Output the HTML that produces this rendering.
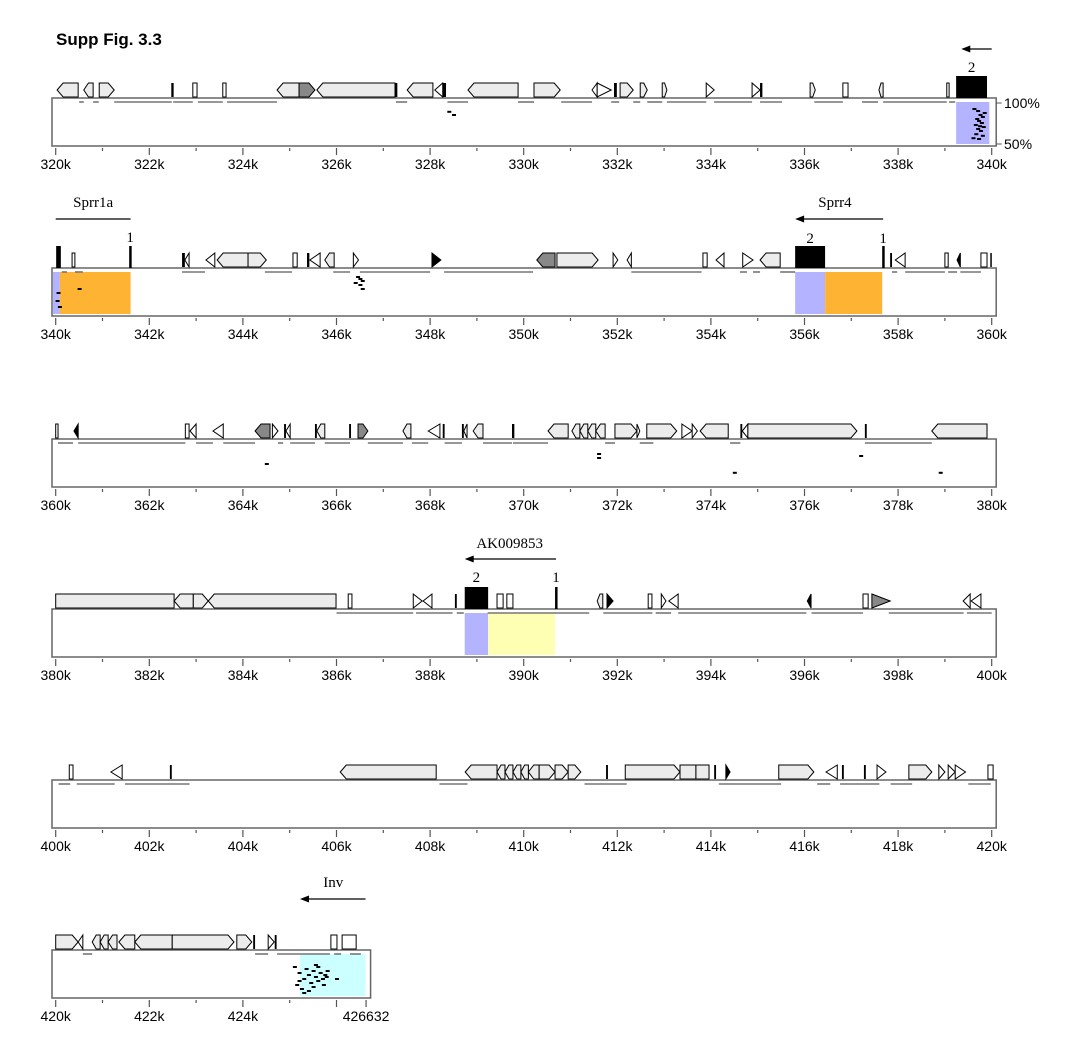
<!DOCTYPE html>
<html><head><meta charset="utf-8"><style>
html,body{margin:0;padding:0;background:#fff;}
svg{display:block;font-family:"Liberation Sans",sans-serif;}
</style></head><body>
<svg id="fig" width="1068" height="1063" viewBox="0 0 1068 1063">
<text x="56" y="45" font-size="17" font-weight="bold">Supp Fig. 3.3</text>
</svg>
<script>
// ---- data (kb offsets relative to each panel start) ----
const panelStarts = [320, 340, 360, 380, 400, 420];
const panelEnds = [340, 360, 380, 400, 420, 426.632];
const tickLabels = [
 ["320k","322k","324k","326k","328k","330k","332k","334k","336k","338k","340k"],
 ["340k","342k","344k","346k","348k","350k","352k","354k","356k","358k","360k"],
 ["360k","362k","364k","366k","368k","370k","372k","374k","376k","378k","380k"],
 ["380k","382k","384k","386k","388k","390k","392k","394k","396k","398k","400k"],
 ["400k","402k","404k","406k","408k","410k","412k","414k","416k","418k","420k"],
 ["420k","422k","424k","426632"]
];
const genes1 = [[0.03,0.48,"L"],[0.6,0.8,"L"],[0.93,1.25,"R"],[2.47,2.52,"bar"],[2.93,3.02,"B"],[3.57,3.64,"B"],[4.73,5.2,"L"],[5.2,5.54,"D"],[5.58,7.25,"L"],[7.25,7.3,"bar"],[7.51,8.06,"L"],[8.1,8.27,"l"],[8.27,8.34,"bar"],[8.81,9.88,"L"],[10.22,10.78,"R"],[11.46,11.57,"l"],[11.57,11.87,"r"],[11.93,11.99,"bar"],[12.06,12.34,"R"],[12.49,12.64,"R"],[12.96,13.06,"R"],[13.9,14.07,"r"],[14.88,15.05,"r"],[15.05,15.1,"bar"],[16.12,16.23,"R"],[16.82,16.93,"B"],[17.59,17.68,"L"],[19.04,19.09,"B"],[19.24,19.9,"E"]];
const genes2 = [[0.01,0.11,"E"],[0.35,0.41,"B"],[1.57,1.62,"E"],[2.7,2.76,"bar"],[2.76,2.85,"l"],[3.21,3.4,"l"],[3.45,4.11,"L"],[4.11,4.5,"R"],[5.07,5.16,"B"],[5.37,5.42,"bar"],[5.43,5.65,"l"],[5.75,5.95,"L"],[6.36,6.47,"r"],[8.04,8.23,"fr"],[10.28,10.67,"DL"],[10.71,11.59,"R"],[11.91,12.01,"r"],[12.21,12.3,"l"],[13.83,13.92,"B"],[14.11,14.28,"l"],[14.68,14.9,"r"],[15.05,15.48,"L"],[15.8,16.44,"E"],[17.66,17.71,"E"],[17.83,17.87,"bar"],[17.94,18.15,"l"],[19.0,19.07,"B"],[19.26,19.33,"fl"],[19.77,19.9,"B"],[19.97,20.0,"bar"]];
const genes3 = [[0.0,0.05,"B"],[0.39,0.48,"fl"],[2.77,2.85,"B"],[2.87,3.0,"l"],[3.36,3.58,"l"],[4.26,4.58,"DL"],[4.63,4.75,"r"],[4.88,4.92,"bar"],[4.92,5.01,"l"],[5.54,5.58,"bar"],[5.58,5.75,"L"],[6.27,6.31,"bar"],[6.46,6.67,"DR"],[7.42,7.59,"L"],[7.96,8.21,"l"],[8.27,8.31,"bar"],[8.68,8.72,"bar"],[8.72,8.79,"l"],[8.92,9.13,"L"],[9.75,9.8,"bar"],[10.52,10.95,"L"],[11.03,11.2,"L"],[11.2,11.37,"L"],[11.37,11.54,"L"],[11.54,11.74,"L"],[11.95,12.42,"R"],[12.42,12.48,"r"],[12.63,13.27,"R"],[13.38,13.6,"r"],[13.6,13.71,"r"],[13.77,14.37,"L"],[14.63,14.67,"bar"],[14.67,14.79,"l"],[14.79,17.12,"R"],[17.29,17.33,"bar"],[18.72,19.9,"L"]];
const genes4 = [[0,2.53,"G"],[2.53,2.94,"L"],[2.94,3.26,"R"],[3.26,5.99,"L"],[6.25,6.33,"B"],[7.64,7.83,"r"],[7.85,8.04,"l"],[8.53,8.57,"bar"],[8.74,9.24,"E"],[9.43,9.56,"B"],[9.64,9.77,"B"],[10.67,10.72,"E"],[11.57,11.69,"L"],[11.78,11.91,"fr"],[12.66,12.74,"B"],[12.94,13.04,"r"],[13.1,13.3,"l"],[16.06,16.14,"fl"],[17.25,17.36,"B"],[17.44,17.83,"gr"],[19.39,19.54,"l"],[19.56,19.77,"l"]];
const genes5 = [[0.29,0.37,"B"],[1.18,1.42,"l"],[2.44,2.48,"bar"],[6.08,8.13,"L"],[8.75,9.43,"L"],[9.43,9.6,"L"],[9.6,9.77,"L"],[9.77,9.94,"L"],[9.94,10.1,"L"],[10.1,10.33,"L"],[10.33,10.67,"R"],[10.67,10.95,"R"],[10.95,11.22,"R"],[11.76,11.8,"bar"],[12.17,13.34,"R"],[13.34,13.68,"G"],[13.68,13.96,"G"],[14.07,14.11,"bar"],[14.32,14.41,"fr"],[15.45,16.2,"R"],[16.46,16.7,"l"],[16.8,16.84,"bar"],[17.27,17.31,"bar"],[17.55,17.74,"r"],[18.23,18.72,"R"],[18.87,19.0,"r"],[19.07,19.22,"r"],[19.22,19.44,"r"],[19.92,20.03,"B"]];
const genes6 = [[0,0.48,"R"],[0.48,0.58,"l"],[0.78,0.95,"L"],[0.95,1.12,"L"],[1.12,1.31,"L"],[1.35,1.69,"L"],[1.69,2.49,"L"],[2.49,3.81,"R"],[3.87,4.19,"R"],[4.22,4.26,"bar"],[4.54,4.67,"r"],[4.68,4.72,"bar"],[5.88,6.01,"B"],[6.12,6.42,"B"]];
const dashes1 = [[0.5,0.6],[0.8,0.92],[1.25,2.48],[2.51,2.93],[3.04,3.57],[3.66,4.73],[7.27,7.51],[8.37,8.81],[9.88,10.22],[10.8,11.46],[11.87,12.04],[12.34,12.49],[12.64,12.96],[13.06,13.9],[14.07,14.88],[15.05,15.52],[16.21,16.82],[17.23,17.57],[17.68,19.04],[19.09,19.22]];
const dashes2 = [[0.13,0.24],[0.41,0.58],[2.7,3.19],[4.47,5.05],[5.93,6.29],[6.5,8.0],[8.3,10.2],[12.3,13.8],[14.62,14.77],[14.9,15.05],[15.48,15.8],[17.87,17.98],[18.15,19.0],[19.07,19.26],[19.33,19.77]];
const dashes3 = [[0.05,0.37],[0.48,2.77],[3.0,3.36],[3.58,4.26],[4.75,4.86],[5.01,5.54],[5.75,6.29],[6.67,7.42],[7.61,7.96],[8.31,8.68],[9.13,9.75],[9.77,10.52],[11.74,11.95],[12.48,12.77],[14.41,14.63],[17.29,18.72]];
const dashes4 = [[6.0,7.64],[7.7,8.48],[8.57,8.72],[9.23,11.4],[11.7,12.75],[12.82,13.15],[13.3,16.04],[16.15,17.25],[17.8,19.4],[19.47,20.0]];
const dashes5 = [[0.06,0.31],[0.45,1.26],[1.48,2.86],[8.2,8.8],[11.3,12.2],[14.17,15.5],[16.27,16.55],[16.76,17.6],[17.84,18.3],[19.5,19.98]];
const dashes6 = [[0.58,0.78],[4.26,4.54],[4.73,5.86],[5.95,6.1],[6.29,6.52]];
// shaded regions [kb0, kb1, colorKey]
const shades1 = [[19.24,19.95,"blue"]];
const shades2 = [[-0.06,0.09,"blue"],[0.09,1.6,"orange"],[15.8,16.44,"blue"],[16.44,17.66,"orange"]];
const shades4 = [[8.74,9.24,"blue"],[9.24,10.67,"yellow"]];
const shades6 = [[5.22,6.62,"cyan"]];
// identity dots [kb, fraction-of-box-height]
const dots1 = [[19.62,0.15],[19.7,0.2],[19.75,0.3],[19.8,0.35],[19.68,0.4],[19.72,0.45],[19.78,0.5],[19.65,0.55],[19.82,0.6],[19.7,0.65],[19.76,0.7],[19.66,0.78],[19.8,0.82],[19.72,0.9],[19.6,0.88],[19.84,0.25],[19.74,0.58],[8.4,0.22],[8.5,0.3]];
const dots2 = [[6.45,0.1],[6.5,0.15],[6.55,0.2],[6.4,0.25],[6.5,0.3],[6.55,0.4],[0.05,0.5],[0.03,0.7],[0.08,0.85],[0.5,0.4]];
const dots3 = [[11.6,0.25],[11.6,0.35],[4.5,0.5],[14.5,0.72],[18.9,0.72],[17.2,0.3]];
const dots6 = [[5.1,0.3],[5.2,0.45],[5.3,0.6],[5.15,0.75],[5.25,0.85],[5.4,0.5],[5.5,0.4],[5.55,0.55],[5.6,0.65],[5.45,0.7],[5.65,0.45],[5.7,0.6],[5.75,0.5],[5.35,0.35],[5.6,0.3],[5.72,0.75],[5.5,0.8],[5.3,0.95],[5.8,0.4],[5.78,0.55],[6.0,0.6],[5.4,0.9],[5.2,0.65],[5.55,0.25]];
const genesAll=[genes1,genes2,genes3,genes4,genes5,genes6];
const dashesAll=[dashes1,dashes2,dashes3,dashes4,dashes5,dashes6];
const shadesAll=[shades1,shades2,[],shades4,[],shades6];
const dotsAll=[dots1,dots2,dots3,[],[],dots6];
const panelTops=[98,268,439,609,780,950];

const NS="http://www.w3.org/2000/svg";
const svg=document.getElementById("fig");
const PX=46.8, X0=55.7, BOXH=48;
const colors={blue:"#b3b3ff",orange:"#ffb333",yellow:"#ffffb3",cyan:"#ccffff"};
function el(tag,attrs,parent){const e=document.createElementNS(NS,tag);for(const k in attrs)e.setAttribute(k,attrs[k]);(parent||svg).appendChild(e);return e;}
function xs(kb){return X0+kb*PX;}

panelTops.forEach((T,pi)=>{
  const g=el("g",{});
  
  
  const span=panelEnds[pi]-panelStarts[pi];
  const xr=xs(span)+4.5;
  const box=el("rect",{x:52,y:T,width:xr-52,height:BOXH,fill:"#fff",stroke:"#666","stroke-width":1.5},g);
  
  
  shadesAll[pi].forEach(s=>{
    const r=el("rect",{x:xs(Math.max(s[0],-0.07)),y:T+4,width:xs(s[1])-xs(Math.max(s[0],-0.07)),height:BOXH-6,fill:colors[s[2]]},g);
    
    
  });
  dotsAll[pi].forEach(d=>{
    const r=el("rect",{x:xs(d[0])-1.5,y:T+4+d[1]*(BOXH-8),width:4,height:2,fill:"#000"},g);
    
    
  });
  dashesAll[pi].forEach(d=>{
    const l=el("line",{x1:xs(d[0]),x2:xs(d[1]),y1:T+4,y2:T+4,stroke:"#777","stroke-width":1.6},g);
    
    
  });
  genesAll[pi].forEach(ge=>{
    const a=xs(ge[0]),b=xs(ge[1]),t=ge[2];
    let top=T-15,bot=T-1,mid=(top+bot)/2,p=Math.min(6,(b-a)/2);
    let e;
    if(t==="E"){e=el("rect",{x:a,y:T-22,width:Math.max(b-a,2.5),height:22,fill:"#000"},g);}
    else if(t==="B"||t==="G"){e=el("rect",{x:a,y:top,width:Math.max(b-a,2),height:bot-top,fill:t==="G"?"#ececec":"#fff",stroke:"#000","stroke-width":1},g);}
    else if(t==="bar"){e=el("rect",{x:a,y:top,width:Math.max(b-a,1.5),height:bot-top,fill:"#000"},g);}
    else if(t==="L"||t==="DL"){e=el("polygon",{points:`${a},${mid} ${a+p},${top} ${b},${top} ${b},${bot} ${a+p},${bot}`,fill:t==="DL"?"#888":"#ececec",stroke:"#000","stroke-width":1},g);}
    else if(t==="R"||t==="D"||t==="DR"){e=el("polygon",{points:`${a},${top} ${b-p},${top} ${b},${mid} ${b-p},${bot} ${a},${bot}`,fill:t==="R"?"#ececec":"#888",stroke:"#000","stroke-width":1},g);}
    else if(t==="l"||t==="fl"){e=el("polygon",{points:`${a},${mid} ${b},${top} ${b},${bot}`,fill:t==="fl"?"#000":"#fff",stroke:"#000","stroke-width":1},g);}
    else {e=el("polygon",{points:`${a},${top} ${b},${mid} ${a},${bot}`,fill:t==="fr"?"#000":(t==="gr"?"#888":"#fff"),stroke:"#000","stroke-width":1},g);}
    
    
  });
  const nMinor=Math.floor(span);
  for(let k=0;k<=nMinor;k++){
    const major=k%2===0;
    const tk=el("line",{x1:xs(k),x2:xs(k),y1:T+BOXH+2,y2:T+BOXH+(major?9:5),stroke:"#555","stroke-width":1.2},g);
    
    
  }
  const labs=tickLabels[pi];
  labs.forEach((lb,i)=>{
    let kb=i*2; if(pi===5&&i===labs.length-1) kb=span;
    if(pi===5&&i===labs.length-1){
      const tk=el("line",{x1:xs(kb),x2:xs(kb),y1:T+BOXH+2,y2:T+BOXH+9,stroke:"#555","stroke-width":1.2},g);
      
      
    }
    const tx=el("text",{x:xs(kb),y:T+BOXH+23,"font-size":14,"text-anchor":"middle",fill:"#000"},g);
    tx.textContent=lb;
    
    
  });
});

function txt(x,y,s,size,name,font){const t=el("text",{x:x,y:y,"font-size":size,"text-anchor":"middle","font-family":font||'"Liberation Serif",serif'});t.textContent=s;return t;}
function arrow(x1,x2,y,name){const g=el("g",{});el("line",{x1:x1,x2:x2+6,y1:y,y2:y,stroke:"#000","stroke-width":1.2},g);el("polygon",{points:`${x2},${y} ${x2+9},${y-3.5} ${x2+9},${y+3.5}`,fill:"#000"},g);}
arrow(xs(20.0),xs(19.35),49,"direction-arrow");
txt(xs(19.57),72,"2",15,"exon-number");
let p1=el("line",{x1:xs(20)+4.5,x2:xs(20)+10,y1:103,y2:103,stroke:"#555"});
let p2=el("line",{x1:xs(20)+4.5,x2:xs(20)+10,y1:144,y2:144,stroke:"#555"});
let y1=el("text",{x:1004,y:108,"font-size":14});y1.textContent="100%";
let y2=el("text",{x:1004,y:149,"font-size":14});y2.textContent="50%";
txt(xs(0.8),207,"Sprr1a",15,"gene-label-sprr1a");
let sl=el("line",{x1:xs(0),x2:xs(1.6),y1:219,y2:219,stroke:"#000","stroke-width":1.2});
txt(xs(1.59),242,"1",15,"exon-number");
txt(xs(16.65),207,"Sprr4",15,"gene-label-sprr4");
arrow(xs(17.68),xs(15.8),219,"direction-arrow");
txt(xs(16.12),243,"2",15,"exon-number");
txt(xs(17.68),243,"1",15,"exon-number");
txt(xs(9.7),548,"AK009853",15,"gene-label-ak009853");
arrow(xs(10.69),xs(8.74),559,"direction-arrow");
txt(xs(8.99),582,"2",15,"exon-number");
txt(xs(10.69),582,"1",15,"exon-number");
txt(xs(5.93),887,"Inv",15,"gene-label-inv");
arrow(xs(6.62),xs(5.22),899,"direction-arrow");
</script>
</body></html>
